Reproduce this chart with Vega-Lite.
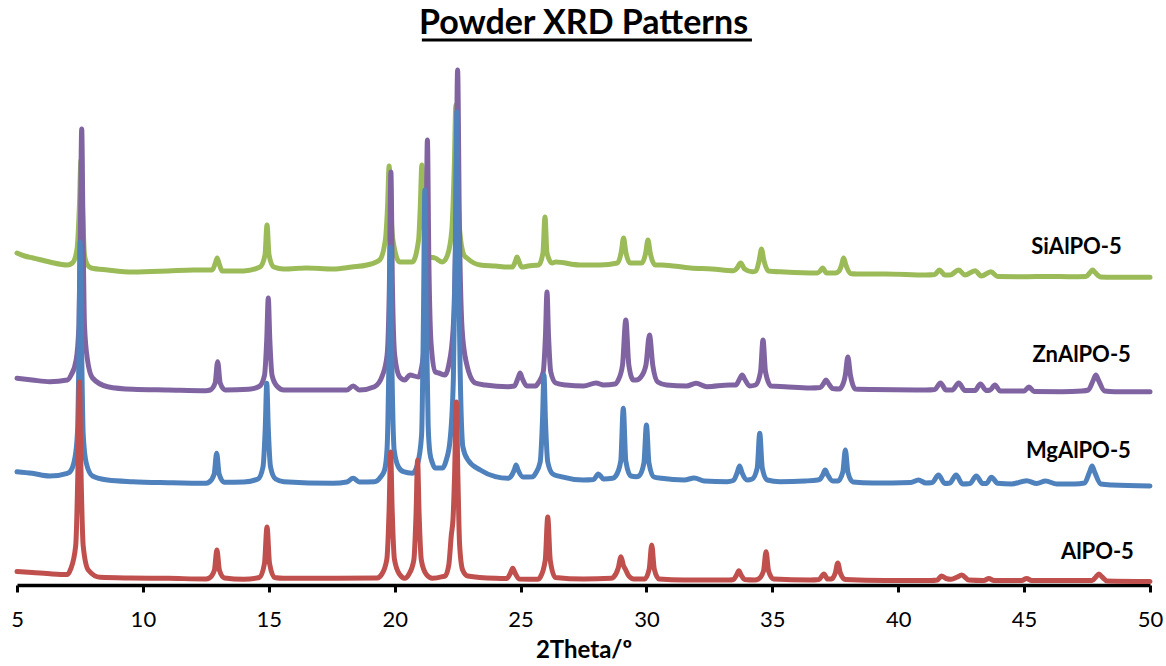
{
  "$schema": "https://vega.github.io/schema/vega-lite/v6.json",
  "width": 1133,
  "height": 530,
  "autosize": {"type": "none"},
  "padding": {"left": 17, "top": 55, "right": 16, "bottom": 81},
  "background": "white",
  "title": {"text": "Powder XRD Patterns", "font": "Lato", "fontSize": 34, "fontWeight": "bold", "color": "black", "anchor": "middle", "frame": "group", "baseline": "alphabetic", "offset": -29},
  "config": {"view": {"stroke": null}, "font": "Lato"},
  "datasets": {
    "patterns": [
      {"s":"SiAlPO-5","t":5.0,"i":332},{"s":"SiAlPO-5","t":5.3,"i":329},{"s":"SiAlPO-5","t":5.64,"i":327},{"s":"SiAlPO-5","t":6.3,"i":323},{"s":"SiAlPO-5","t":7.0,"i":320},{"s":"SiAlPO-5","t":7.2,"i":322},{"s":"SiAlPO-5","t":7.38,"i":335},{"s":"SiAlPO-5","t":7.48,"i":380},{"s":"SiAlPO-5","t":7.54,"i":425},{"s":"SiAlPO-5","t":7.6,"i":380},{"s":"SiAlPO-5","t":7.68,"i":330},{"s":"SiAlPO-5","t":7.8,"i":320},{"s":"SiAlPO-5","t":7.95,"i":317},{"s":"SiAlPO-5","t":8.6,"i":315},{"s":"SiAlPO-5","t":9.6,"i":313},{"s":"SiAlPO-5","t":11.0,"i":314},{"s":"SiAlPO-5","t":12.0,"i":315},{"s":"SiAlPO-5","t":12.75,"i":315},{"s":"SiAlPO-5","t":12.88,"i":322},{"s":"SiAlPO-5","t":12.95,"i":327},{"s":"SiAlPO-5","t":13.02,"i":322},{"s":"SiAlPO-5","t":13.15,"i":314},{"s":"SiAlPO-5","t":14.0,"i":314},{"s":"SiAlPO-5","t":14.65,"i":318},{"s":"SiAlPO-5","t":14.85,"i":330},{"s":"SiAlPO-5","t":14.93,"i":360},{"s":"SiAlPO-5","t":15.01,"i":330},{"s":"SiAlPO-5","t":15.2,"i":318},{"s":"SiAlPO-5","t":15.6,"i":316},{"s":"SiAlPO-5","t":16.5,"i":317},{"s":"SiAlPO-5","t":17.55,"i":316},{"s":"SiAlPO-5","t":18.3,"i":318},{"s":"SiAlPO-5","t":18.9,"i":320},{"s":"SiAlPO-5","t":19.4,"i":325},{"s":"SiAlPO-5","t":19.63,"i":345},{"s":"SiAlPO-5","t":19.72,"i":380},{"s":"SiAlPO-5","t":19.78,"i":419},{"s":"SiAlPO-5","t":19.84,"i":380},{"s":"SiAlPO-5","t":19.93,"i":345},{"s":"SiAlPO-5","t":20.2,"i":323},{"s":"SiAlPO-5","t":20.7,"i":323},{"s":"SiAlPO-5","t":20.95,"i":345},{"s":"SiAlPO-5","t":21.02,"i":380},{"s":"SiAlPO-5","t":21.08,"i":420},{"s":"SiAlPO-5","t":21.14,"i":380},{"s":"SiAlPO-5","t":21.22,"i":340},{"s":"SiAlPO-5","t":21.4,"i":328},{"s":"SiAlPO-5","t":21.6,"i":327},{"s":"SiAlPO-5","t":21.9,"i":323},{"s":"SiAlPO-5","t":22.1,"i":330},{"s":"SiAlPO-5","t":22.27,"i":355},{"s":"SiAlPO-5","t":22.37,"i":420},{"s":"SiAlPO-5","t":22.43,"i":480},{"s":"SiAlPO-5","t":22.49,"i":420},{"s":"SiAlPO-5","t":22.58,"i":355},{"s":"SiAlPO-5","t":22.75,"i":330},{"s":"SiAlPO-5","t":22.87,"i":327},{"s":"SiAlPO-5","t":23.4,"i":320},{"s":"SiAlPO-5","t":24.0,"i":319},{"s":"SiAlPO-5","t":24.5,"i":318},{"s":"SiAlPO-5","t":24.68,"i":318},{"s":"SiAlPO-5","t":24.8,"i":324},{"s":"SiAlPO-5","t":24.86,"i":328},{"s":"SiAlPO-5","t":24.93,"i":324},{"s":"SiAlPO-5","t":25.05,"i":318},{"s":"SiAlPO-5","t":25.3,"i":319},{"s":"SiAlPO-5","t":25.72,"i":320},{"s":"SiAlPO-5","t":25.89,"i":332},{"s":"SiAlPO-5","t":25.97,"i":368},{"s":"SiAlPO-5","t":26.05,"i":332},{"s":"SiAlPO-5","t":26.25,"i":322},{"s":"SiAlPO-5","t":26.4,"i":323},{"s":"SiAlPO-5","t":27.36,"i":320},{"s":"SiAlPO-5","t":28.15,"i":320},{"s":"SiAlPO-5","t":28.85,"i":322},{"s":"SiAlPO-5","t":29.0,"i":333},{"s":"SiAlPO-5","t":29.09,"i":347},{"s":"SiAlPO-5","t":29.18,"i":333},{"s":"SiAlPO-5","t":29.35,"i":322},{"s":"SiAlPO-5","t":29.58,"i":322},{"s":"SiAlPO-5","t":29.82,"i":322},{"s":"SiAlPO-5","t":29.97,"i":332},{"s":"SiAlPO-5","t":30.06,"i":345},{"s":"SiAlPO-5","t":30.15,"i":332},{"s":"SiAlPO-5","t":30.35,"i":320},{"s":"SiAlPO-5","t":30.6,"i":320},{"s":"SiAlPO-5","t":31.75,"i":317},{"s":"SiAlPO-5","t":32.6,"i":316},{"s":"SiAlPO-5","t":33.47,"i":314.3},{"s":"SiAlPO-5","t":33.6,"i":317},{"s":"SiAlPO-5","t":33.74,"i":322},{"s":"SiAlPO-5","t":33.9,"i":316},{"s":"SiAlPO-5","t":34.2,"i":313.3},{"s":"SiAlPO-5","t":34.35,"i":314},{"s":"SiAlPO-5","t":34.48,"i":325},{"s":"SiAlPO-5","t":34.57,"i":336},{"s":"SiAlPO-5","t":34.66,"i":325},{"s":"SiAlPO-5","t":34.85,"i":314},{"s":"SiAlPO-5","t":35.5,"i":313},{"s":"SiAlPO-5","t":36.78,"i":312},{"s":"SiAlPO-5","t":36.9,"i":314},{"s":"SiAlPO-5","t":37.0,"i":317},{"s":"SiAlPO-5","t":37.15,"i":312},{"s":"SiAlPO-5","t":37.5,"i":312},{"s":"SiAlPO-5","t":37.65,"i":314},{"s":"SiAlPO-5","t":37.75,"i":320},{"s":"SiAlPO-5","t":37.83,"i":327},{"s":"SiAlPO-5","t":37.92,"i":320},{"s":"SiAlPO-5","t":38.1,"i":311.5},{"s":"SiAlPO-5","t":38.36,"i":311},{"s":"SiAlPO-5","t":39.5,"i":311},{"s":"SiAlPO-5","t":41.1,"i":310},{"s":"SiAlPO-5","t":41.45,"i":310.5},{"s":"SiAlPO-5","t":41.64,"i":315},{"s":"SiAlPO-5","t":41.85,"i":310},{"s":"SiAlPO-5","t":42.06,"i":310},{"s":"SiAlPO-5","t":42.4,"i":315},{"s":"SiAlPO-5","t":42.65,"i":310},{"s":"SiAlPO-5","t":43.05,"i":314.3},{"s":"SiAlPO-5","t":43.3,"i":309},{"s":"SiAlPO-5","t":43.68,"i":313.3},{"s":"SiAlPO-5","t":43.95,"i":308.5},{"s":"SiAlPO-5","t":45.0,"i":308.3},{"s":"SiAlPO-5","t":46.0,"i":308.5},{"s":"SiAlPO-5","t":46.86,"i":308.3},{"s":"SiAlPO-5","t":47.45,"i":308.5},{"s":"SiAlPO-5","t":47.62,"i":312.5},{"s":"SiAlPO-5","t":47.72,"i":315},{"s":"SiAlPO-5","t":47.82,"i":312.5},{"s":"SiAlPO-5","t":48.05,"i":308},{"s":"SiAlPO-5","t":48.5,"i":307.7},{"s":"SiAlPO-5","t":50.0,"i":307.7},

      {"s":"ZnAlPO-5","t":5.0,"i":206.7},{"s":"ZnAlPO-5","t":5.6,"i":205},{"s":"ZnAlPO-5","t":6.3,"i":203.3},{"s":"ZnAlPO-5","t":7.0,"i":205},{"s":"ZnAlPO-5","t":7.15,"i":210},{"s":"ZnAlPO-5","t":7.35,"i":225},{"s":"ZnAlPO-5","t":7.46,"i":260},{"s":"ZnAlPO-5","t":7.52,"i":360},{"s":"ZnAlPO-5","t":7.57,"i":456},{"s":"ZnAlPO-5","t":7.62,"i":360},{"s":"ZnAlPO-5","t":7.68,"i":260},{"s":"ZnAlPO-5","t":7.8,"i":225},{"s":"ZnAlPO-5","t":8.0,"i":207},{"s":"ZnAlPO-5","t":8.6,"i":198.3},{"s":"ZnAlPO-5","t":9.6,"i":195.7},{"s":"ZnAlPO-5","t":11.0,"i":195},{"s":"ZnAlPO-5","t":12.5,"i":194.3},{"s":"ZnAlPO-5","t":12.67,"i":195},{"s":"ZnAlPO-5","t":12.87,"i":202},{"s":"ZnAlPO-5","t":12.97,"i":223.3},{"s":"ZnAlPO-5","t":13.07,"i":202},{"s":"ZnAlPO-5","t":13.27,"i":195},{"s":"ZnAlPO-5","t":14.2,"i":195.7},{"s":"ZnAlPO-5","t":14.63,"i":198.7},{"s":"ZnAlPO-5","t":14.83,"i":209.6},{"s":"ZnAlPO-5","t":14.92,"i":246},{"s":"ZnAlPO-5","t":14.98,"i":287},{"s":"ZnAlPO-5","t":15.04,"i":246},{"s":"ZnAlPO-5","t":15.13,"i":209.6},{"s":"ZnAlPO-5","t":15.33,"i":198.7},{"s":"ZnAlPO-5","t":15.6,"i":195},{"s":"ZnAlPO-5","t":17.5,"i":195},{"s":"ZnAlPO-5","t":18.1,"i":195},{"s":"ZnAlPO-5","t":18.35,"i":199},{"s":"ZnAlPO-5","t":18.6,"i":195},{"s":"ZnAlPO-5","t":19.2,"i":198.3},{"s":"ZnAlPO-5","t":19.52,"i":210},{"s":"ZnAlPO-5","t":19.7,"i":230},{"s":"ZnAlPO-5","t":19.79,"i":300},{"s":"ZnAlPO-5","t":19.85,"i":413},{"s":"ZnAlPO-5","t":19.91,"i":300},{"s":"ZnAlPO-5","t":20.0,"i":230},{"s":"ZnAlPO-5","t":20.2,"i":208},{"s":"ZnAlPO-5","t":20.4,"i":205},{"s":"ZnAlPO-5","t":20.6,"i":210},{"s":"ZnAlPO-5","t":20.95,"i":208},{"s":"ZnAlPO-5","t":21.05,"i":215},{"s":"ZnAlPO-5","t":21.17,"i":240},{"s":"ZnAlPO-5","t":21.24,"i":320},{"s":"ZnAlPO-5","t":21.3,"i":445},{"s":"ZnAlPO-5","t":21.36,"i":320},{"s":"ZnAlPO-5","t":21.45,"i":240},{"s":"ZnAlPO-5","t":21.62,"i":213},{"s":"ZnAlPO-5","t":21.75,"i":212},{"s":"ZnAlPO-5","t":22.0,"i":210},{"s":"ZnAlPO-5","t":22.15,"i":220},{"s":"ZnAlPO-5","t":22.32,"i":255},{"s":"ZnAlPO-5","t":22.43,"i":360},{"s":"ZnAlPO-5","t":22.5,"i":515},{"s":"ZnAlPO-5","t":22.57,"i":360},{"s":"ZnAlPO-5","t":22.68,"i":255},{"s":"ZnAlPO-5","t":22.85,"i":222},{"s":"ZnAlPO-5","t":23.2,"i":202},{"s":"ZnAlPO-5","t":23.6,"i":200},{"s":"ZnAlPO-5","t":24.5,"i":198.3},{"s":"ZnAlPO-5","t":24.75,"i":199},{"s":"ZnAlPO-5","t":24.9,"i":207},{"s":"ZnAlPO-5","t":24.98,"i":212},{"s":"ZnAlPO-5","t":25.06,"i":207},{"s":"ZnAlPO-5","t":25.25,"i":199},{"s":"ZnAlPO-5","t":25.6,"i":199},{"s":"ZnAlPO-5","t":25.7,"i":202},{"s":"ZnAlPO-5","t":25.9,"i":213},{"s":"ZnAlPO-5","t":25.99,"i":250},{"s":"ZnAlPO-5","t":26.05,"i":293},{"s":"ZnAlPO-5","t":26.11,"i":250},{"s":"ZnAlPO-5","t":26.2,"i":213},{"s":"ZnAlPO-5","t":26.4,"i":202},{"s":"ZnAlPO-5","t":26.8,"i":200},{"s":"ZnAlPO-5","t":27.5,"i":199},{"s":"ZnAlPO-5","t":28.0,"i":202},{"s":"ZnAlPO-5","t":28.3,"i":200},{"s":"ZnAlPO-5","t":28.75,"i":201},{"s":"ZnAlPO-5","t":28.88,"i":205},{"s":"ZnAlPO-5","t":29.05,"i":220},{"s":"ZnAlPO-5","t":29.18,"i":265},{"s":"ZnAlPO-5","t":29.3,"i":220},{"s":"ZnAlPO-5","t":29.48,"i":205},{"s":"ZnAlPO-5","t":29.6,"i":205},{"s":"ZnAlPO-5","t":29.78,"i":208},{"s":"ZnAlPO-5","t":29.98,"i":220},{"s":"ZnAlPO-5","t":30.12,"i":250},{"s":"ZnAlPO-5","t":30.25,"i":220},{"s":"ZnAlPO-5","t":30.45,"i":203},{"s":"ZnAlPO-5","t":30.8,"i":200},{"s":"ZnAlPO-5","t":31.6,"i":199},{"s":"ZnAlPO-5","t":31.97,"i":201.7},{"s":"ZnAlPO-5","t":32.4,"i":198.3},{"s":"ZnAlPO-5","t":33.3,"i":200},{"s":"ZnAlPO-5","t":33.55,"i":200},{"s":"ZnAlPO-5","t":33.7,"i":206},{"s":"ZnAlPO-5","t":33.8,"i":210},{"s":"ZnAlPO-5","t":33.9,"i":206},{"s":"ZnAlPO-5","t":34.1,"i":199},{"s":"ZnAlPO-5","t":34.33,"i":200},{"s":"ZnAlPO-5","t":34.53,"i":213},{"s":"ZnAlPO-5","t":34.63,"i":245},{"s":"ZnAlPO-5","t":34.73,"i":213},{"s":"ZnAlPO-5","t":34.95,"i":199},{"s":"ZnAlPO-5","t":35.5,"i":198.3},{"s":"ZnAlPO-5","t":36.5,"i":197},{"s":"ZnAlPO-5","t":36.9,"i":197.5},{"s":"ZnAlPO-5","t":37.05,"i":202},{"s":"ZnAlPO-5","t":37.13,"i":205},{"s":"ZnAlPO-5","t":37.22,"i":202},{"s":"ZnAlPO-5","t":37.4,"i":196.5},{"s":"ZnAlPO-5","t":37.65,"i":196},{"s":"ZnAlPO-5","t":37.72,"i":197},{"s":"ZnAlPO-5","t":37.9,"i":210},{"s":"ZnAlPO-5","t":38.0,"i":228},{"s":"ZnAlPO-5","t":38.1,"i":210},{"s":"ZnAlPO-5","t":38.3,"i":196},{"s":"ZnAlPO-5","t":39.0,"i":195.5},{"s":"ZnAlPO-5","t":41.1,"i":195},{"s":"ZnAlPO-5","t":41.45,"i":195.5},{"s":"ZnAlPO-5","t":41.68,"i":202},{"s":"ZnAlPO-5","t":41.9,"i":195},{"s":"ZnAlPO-5","t":42.15,"i":195},{"s":"ZnAlPO-5","t":42.4,"i":202},{"s":"ZnAlPO-5","t":42.65,"i":194.5},{"s":"ZnAlPO-5","t":43.05,"i":194.5},{"s":"ZnAlPO-5","t":43.26,"i":201},{"s":"ZnAlPO-5","t":43.5,"i":194.5},{"s":"ZnAlPO-5","t":43.65,"i":195},{"s":"ZnAlPO-5","t":43.84,"i":200},{"s":"ZnAlPO-5","t":44.05,"i":194},{"s":"ZnAlPO-5","t":44.7,"i":194},{"s":"ZnAlPO-5","t":45.0,"i":194},{"s":"ZnAlPO-5","t":45.19,"i":198},{"s":"ZnAlPO-5","t":45.4,"i":193.5},{"s":"ZnAlPO-5","t":46.5,"i":193.3},{"s":"ZnAlPO-5","t":47.3,"i":194},{"s":"ZnAlPO-5","t":47.55,"i":195},{"s":"ZnAlPO-5","t":47.75,"i":205},{"s":"ZnAlPO-5","t":47.85,"i":210},{"s":"ZnAlPO-5","t":47.95,"i":205},{"s":"ZnAlPO-5","t":48.2,"i":194},{"s":"ZnAlPO-5","t":48.6,"i":193.3},{"s":"ZnAlPO-5","t":50.0,"i":193.3},

      {"s":"MgAlPO-5","t":5.0,"i":113.3},{"s":"MgAlPO-5","t":5.6,"i":111.7},{"s":"MgAlPO-5","t":6.3,"i":109},{"s":"MgAlPO-5","t":7.0,"i":111.7},{"s":"MgAlPO-5","t":7.1,"i":113},{"s":"MgAlPO-5","t":7.3,"i":127},{"s":"MgAlPO-5","t":7.4,"i":152},{"s":"MgAlPO-5","t":7.46,"i":230},{"s":"MgAlPO-5","t":7.51,"i":343},{"s":"MgAlPO-5","t":7.57,"i":230},{"s":"MgAlPO-5","t":7.63,"i":150},{"s":"MgAlPO-5","t":7.75,"i":122},{"s":"MgAlPO-5","t":8.0,"i":109},{"s":"MgAlPO-5","t":8.6,"i":105},{"s":"MgAlPO-5","t":9.6,"i":103.3},{"s":"MgAlPO-5","t":11.0,"i":102.3},{"s":"MgAlPO-5","t":12.5,"i":101.7},{"s":"MgAlPO-5","t":12.63,"i":102.8},{"s":"MgAlPO-5","t":12.83,"i":110.7},{"s":"MgAlPO-5","t":12.93,"i":131.7},{"s":"MgAlPO-5","t":13.03,"i":110.7},{"s":"MgAlPO-5","t":13.23,"i":102.8},{"s":"MgAlPO-5","t":14.0,"i":103},{"s":"MgAlPO-5","t":14.57,"i":106},{"s":"MgAlPO-5","t":14.77,"i":118},{"s":"MgAlPO-5","t":14.86,"i":157},{"s":"MgAlPO-5","t":14.92,"i":201.7},{"s":"MgAlPO-5","t":14.98,"i":157},{"s":"MgAlPO-5","t":15.07,"i":118},{"s":"MgAlPO-5","t":15.27,"i":106},{"s":"MgAlPO-5","t":15.6,"i":103.3},{"s":"MgAlPO-5","t":17.55,"i":101.7},{"s":"MgAlPO-5","t":18.1,"i":103},{"s":"MgAlPO-5","t":18.35,"i":106.7},{"s":"MgAlPO-5","t":18.6,"i":103},{"s":"MgAlPO-5","t":19.2,"i":103.3},{"s":"MgAlPO-5","t":19.45,"i":108.3},{"s":"MgAlPO-5","t":19.6,"i":115},{"s":"MgAlPO-5","t":19.7,"i":137},{"s":"MgAlPO-5","t":19.77,"i":220},{"s":"MgAlPO-5","t":19.83,"i":338},{"s":"MgAlPO-5","t":19.89,"i":220},{"s":"MgAlPO-5","t":19.98,"i":135},{"s":"MgAlPO-5","t":20.15,"i":118},{"s":"MgAlPO-5","t":20.35,"i":113.3},{"s":"MgAlPO-5","t":20.7,"i":111.7},{"s":"MgAlPO-5","t":20.9,"i":120},{"s":"MgAlPO-5","t":21.07,"i":150},{"s":"MgAlPO-5","t":21.14,"i":260},{"s":"MgAlPO-5","t":21.2,"i":395},{"s":"MgAlPO-5","t":21.26,"i":260},{"s":"MgAlPO-5","t":21.33,"i":160},{"s":"MgAlPO-5","t":21.4,"i":132},{"s":"MgAlPO-5","t":21.5,"i":122},{"s":"MgAlPO-5","t":21.6,"i":117},{"s":"MgAlPO-5","t":21.9,"i":117},{"s":"MgAlPO-5","t":22.05,"i":125},{"s":"MgAlPO-5","t":22.2,"i":145},{"s":"MgAlPO-5","t":22.33,"i":205},{"s":"MgAlPO-5","t":22.41,"i":335},{"s":"MgAlPO-5","t":22.47,"i":473},{"s":"MgAlPO-5","t":22.53,"i":335},{"s":"MgAlPO-5","t":22.6,"i":215},{"s":"MgAlPO-5","t":22.71,"i":138},{"s":"MgAlPO-5","t":22.91,"i":125},{"s":"MgAlPO-5","t":23.4,"i":115},{"s":"MgAlPO-5","t":24.0,"i":108.3},{"s":"MgAlPO-5","t":24.5,"i":106.7},{"s":"MgAlPO-5","t":24.6,"i":108},{"s":"MgAlPO-5","t":24.75,"i":115},{"s":"MgAlPO-5","t":24.82,"i":120},{"s":"MgAlPO-5","t":24.9,"i":115},{"s":"MgAlPO-5","t":25.1,"i":108},{"s":"MgAlPO-5","t":25.5,"i":108.3},{"s":"MgAlPO-5","t":25.58,"i":111},{"s":"MgAlPO-5","t":25.78,"i":123},{"s":"MgAlPO-5","t":25.87,"i":164},{"s":"MgAlPO-5","t":25.93,"i":210},{"s":"MgAlPO-5","t":25.99,"i":164},{"s":"MgAlPO-5","t":26.08,"i":123},{"s":"MgAlPO-5","t":26.28,"i":111},{"s":"MgAlPO-5","t":26.6,"i":108.3},{"s":"MgAlPO-5","t":27.5,"i":105},{"s":"MgAlPO-5","t":27.9,"i":105.5},{"s":"MgAlPO-5","t":28.09,"i":111},{"s":"MgAlPO-5","t":28.3,"i":106},{"s":"MgAlPO-5","t":28.65,"i":106.7},{"s":"MgAlPO-5","t":28.78,"i":109},{"s":"MgAlPO-5","t":28.98,"i":124},{"s":"MgAlPO-5","t":29.08,"i":176.7},{"s":"MgAlPO-5","t":29.18,"i":124},{"s":"MgAlPO-5","t":29.38,"i":109},{"s":"MgAlPO-5","t":29.6,"i":108.3},{"s":"MgAlPO-5","t":29.7,"i":109},{"s":"MgAlPO-5","t":29.9,"i":122},{"s":"MgAlPO-5","t":30.0,"i":160},{"s":"MgAlPO-5","t":30.1,"i":122},{"s":"MgAlPO-5","t":30.3,"i":108},{"s":"MgAlPO-5","t":30.6,"i":106.7},{"s":"MgAlPO-5","t":31.5,"i":105},{"s":"MgAlPO-5","t":31.9,"i":107},{"s":"MgAlPO-5","t":32.3,"i":104},{"s":"MgAlPO-5","t":33.2,"i":103.3},{"s":"MgAlPO-5","t":33.45,"i":104.5},{"s":"MgAlPO-5","t":33.6,"i":112},{"s":"MgAlPO-5","t":33.7,"i":119},{"s":"MgAlPO-5","t":33.8,"i":112},{"s":"MgAlPO-5","t":34.0,"i":105},{"s":"MgAlPO-5","t":34.2,"i":106},{"s":"MgAlPO-5","t":34.4,"i":117},{"s":"MgAlPO-5","t":34.5,"i":151.7},{"s":"MgAlPO-5","t":34.6,"i":117},{"s":"MgAlPO-5","t":34.8,"i":105},{"s":"MgAlPO-5","t":35.3,"i":103.3},{"s":"MgAlPO-5","t":36.3,"i":104},{"s":"MgAlPO-5","t":36.8,"i":105},{"s":"MgAlPO-5","t":36.9,"i":106},{"s":"MgAlPO-5","t":37.0,"i":110},{"s":"MgAlPO-5","t":37.1,"i":115},{"s":"MgAlPO-5","t":37.2,"i":110},{"s":"MgAlPO-5","t":37.4,"i":104},{"s":"MgAlPO-5","t":37.6,"i":104},{"s":"MgAlPO-5","t":37.8,"i":113},{"s":"MgAlPO-5","t":37.9,"i":135},{"s":"MgAlPO-5","t":38.0,"i":113},{"s":"MgAlPO-5","t":38.2,"i":103},{"s":"MgAlPO-5","t":39.0,"i":102},{"s":"MgAlPO-5","t":40.5,"i":102.5},{"s":"MgAlPO-5","t":40.8,"i":105},{"s":"MgAlPO-5","t":41.1,"i":102},{"s":"MgAlPO-5","t":41.35,"i":102.5},{"s":"MgAlPO-5","t":41.6,"i":110},{"s":"MgAlPO-5","t":41.85,"i":101.5},{"s":"MgAlPO-5","t":42.05,"i":102},{"s":"MgAlPO-5","t":42.3,"i":110},{"s":"MgAlPO-5","t":42.55,"i":101},{"s":"MgAlPO-5","t":42.85,"i":101.5},{"s":"MgAlPO-5","t":43.1,"i":109},{"s":"MgAlPO-5","t":43.35,"i":101.5},{"s":"MgAlPO-5","t":43.5,"i":101.5},{"s":"MgAlPO-5","t":43.7,"i":107.7},{"s":"MgAlPO-5","t":43.95,"i":101.7},{"s":"MgAlPO-5","t":44.5,"i":101},{"s":"MgAlPO-5","t":45.1,"i":104.3},{"s":"MgAlPO-5","t":45.5,"i":101.5},{"s":"MgAlPO-5","t":45.85,"i":104},{"s":"MgAlPO-5","t":46.3,"i":101},{"s":"MgAlPO-5","t":47.0,"i":101},{"s":"MgAlPO-5","t":47.4,"i":102},{"s":"MgAlPO-5","t":47.6,"i":113},{"s":"MgAlPO-5","t":47.7,"i":119},{"s":"MgAlPO-5","t":47.8,"i":113},{"s":"MgAlPO-5","t":48.05,"i":101},{"s":"MgAlPO-5","t":48.5,"i":100},{"s":"MgAlPO-5","t":50.0,"i":99},

      {"s":"AlPO-5","t":5.0,"i":13.5},{"s":"AlPO-5","t":5.6,"i":12.5},{"s":"AlPO-5","t":6.4,"i":11},{"s":"AlPO-5","t":7.0,"i":10.5},{"s":"AlPO-5","t":7.13,"i":15.8},{"s":"AlPO-5","t":7.33,"i":39},{"s":"AlPO-5","t":7.42,"i":116},{"s":"AlPO-5","t":7.48,"i":203},{"s":"AlPO-5","t":7.54,"i":116},{"s":"AlPO-5","t":7.63,"i":39},{"s":"AlPO-5","t":7.83,"i":15},{"s":"AlPO-5","t":8.3,"i":7.7},{"s":"AlPO-5","t":9.5,"i":7},{"s":"AlPO-5","t":11.0,"i":6.7},{"s":"AlPO-5","t":12.5,"i":6},{"s":"AlPO-5","t":12.64,"i":7},{"s":"AlPO-5","t":12.84,"i":14.7},{"s":"AlPO-5","t":12.94,"i":35},{"s":"AlPO-5","t":13.04,"i":14.7},{"s":"AlPO-5","t":13.24,"i":7},{"s":"AlPO-5","t":14.0,"i":5.7},{"s":"AlPO-5","t":14.63,"i":7.5},{"s":"AlPO-5","t":14.83,"i":21.6},{"s":"AlPO-5","t":14.93,"i":58},{"s":"AlPO-5","t":15.03,"i":21.6},{"s":"AlPO-5","t":15.23,"i":7.5},{"s":"AlPO-5","t":15.6,"i":6.7},{"s":"AlPO-5","t":17.5,"i":6.7},{"s":"AlPO-5","t":19.3,"i":7},{"s":"AlPO-5","t":19.49,"i":10.8},{"s":"AlPO-5","t":19.69,"i":25.9},{"s":"AlPO-5","t":19.78,"i":76},{"s":"AlPO-5","t":19.84,"i":133},{"s":"AlPO-5","t":19.9,"i":76},{"s":"AlPO-5","t":19.99,"i":25.9},{"s":"AlPO-5","t":20.19,"i":10.8},{"s":"AlPO-5","t":20.4,"i":6.7},{"s":"AlPO-5","t":20.56,"i":10.5},{"s":"AlPO-5","t":20.76,"i":24.7},{"s":"AlPO-5","t":20.85,"i":71.6},{"s":"AlPO-5","t":20.91,"i":125},{"s":"AlPO-5","t":20.97,"i":71.6},{"s":"AlPO-5","t":21.06,"i":24.7},{"s":"AlPO-5","t":21.26,"i":10.5},{"s":"AlPO-5","t":21.5,"i":6.7},{"s":"AlPO-5","t":21.9,"i":8.3},{"s":"AlPO-5","t":22.0,"i":9},{"s":"AlPO-5","t":22.15,"i":20},{"s":"AlPO-5","t":22.25,"i":50},{"s":"AlPO-5","t":22.32,"i":67},{"s":"AlPO-5","t":22.38,"i":110},{"s":"AlPO-5","t":22.45,"i":183},{"s":"AlPO-5","t":22.51,"i":110},{"s":"AlPO-5","t":22.58,"i":40},{"s":"AlPO-5","t":22.7,"i":15},{"s":"AlPO-5","t":22.9,"i":9},{"s":"AlPO-5","t":24.0,"i":6.7},{"s":"AlPO-5","t":24.45,"i":6.5},{"s":"AlPO-5","t":24.6,"i":12},{"s":"AlPO-5","t":24.69,"i":16.7},{"s":"AlPO-5","t":24.78,"i":12},{"s":"AlPO-5","t":24.95,"i":6},{"s":"AlPO-5","t":25.7,"i":5.7},{"s":"AlPO-5","t":25.78,"i":7.6},{"s":"AlPO-5","t":25.98,"i":24.6},{"s":"AlPO-5","t":26.08,"i":68},{"s":"AlPO-5","t":26.18,"i":24.6},{"s":"AlPO-5","t":26.38,"i":7.6},{"s":"AlPO-5","t":27.5,"i":6},{"s":"AlPO-5","t":28.6,"i":6.7},{"s":"AlPO-5","t":28.7,"i":8},{"s":"AlPO-5","t":28.88,"i":17},{"s":"AlPO-5","t":28.99,"i":28.3},{"s":"AlPO-5","t":29.08,"i":20},{"s":"AlPO-5","t":29.18,"i":15},{"s":"AlPO-5","t":29.3,"i":9},{"s":"AlPO-5","t":29.5,"i":6},{"s":"AlPO-5","t":29.93,"i":6},{"s":"AlPO-5","t":30.11,"i":16},{"s":"AlPO-5","t":30.21,"i":40},{"s":"AlPO-5","t":30.31,"i":16},{"s":"AlPO-5","t":30.5,"i":6},{"s":"AlPO-5","t":31.5,"i":5},{"s":"AlPO-5","t":33.3,"i":5},{"s":"AlPO-5","t":33.45,"i":5.5},{"s":"AlPO-5","t":33.58,"i":10},{"s":"AlPO-5","t":33.67,"i":14.3},{"s":"AlPO-5","t":33.76,"i":10},{"s":"AlPO-5","t":33.9,"i":5.5},{"s":"AlPO-5","t":34.3,"i":5},{"s":"AlPO-5","t":34.45,"i":6},{"s":"AlPO-5","t":34.65,"i":14},{"s":"AlPO-5","t":34.75,"i":33.3},{"s":"AlPO-5","t":34.85,"i":14},{"s":"AlPO-5","t":35.05,"i":6},{"s":"AlPO-5","t":36.5,"i":5},{"s":"AlPO-5","t":36.85,"i":5.5},{"s":"AlPO-5","t":37.05,"i":11},{"s":"AlPO-5","t":37.2,"i":6},{"s":"AlPO-5","t":37.35,"i":6},{"s":"AlPO-5","t":37.5,"i":12},{"s":"AlPO-5","t":37.6,"i":22},{"s":"AlPO-5","t":37.7,"i":12},{"s":"AlPO-5","t":37.9,"i":5.5},{"s":"AlPO-5","t":39.5,"i":4.5},{"s":"AlPO-5","t":41.3,"i":4.5},{"s":"AlPO-5","t":41.55,"i":5},{"s":"AlPO-5","t":41.72,"i":9},{"s":"AlPO-5","t":41.9,"i":6.5},{"s":"AlPO-5","t":42.1,"i":5.7},{"s":"AlPO-5","t":42.35,"i":8},{"s":"AlPO-5","t":42.52,"i":10},{"s":"AlPO-5","t":42.8,"i":5},{"s":"AlPO-5","t":43.4,"i":4.5},{"s":"AlPO-5","t":43.6,"i":6.5},{"s":"AlPO-5","t":43.8,"i":4.5},{"s":"AlPO-5","t":44.9,"i":4.5},{"s":"AlPO-5","t":45.1,"i":6.5},{"s":"AlPO-5","t":45.3,"i":4.5},{"s":"AlPO-5","t":46.5,"i":4.5},{"s":"AlPO-5","t":47.7,"i":4.5},{"s":"AlPO-5","t":47.85,"i":8},{"s":"AlPO-5","t":47.97,"i":11},{"s":"AlPO-5","t":48.1,"i":8},{"s":"AlPO-5","t":48.3,"i":4},{"s":"AlPO-5","t":50.0,"i":3.5}
    ],
    "labels": [
      {"s": "SiAlPO-5", "t": 48.88, "i": 338},
      {"s": "ZnAlPO-5", "t": 49.24, "i": 230},
      {"s": "MgAlPO-5", "t": 49.24, "i": 134},
      {"s": "AlPO-5", "t": 49.36, "i": 33}
    ]
  },
  "layer": [
    {
      "data": {"name": "patterns"},
      "mark": {"type": "line", "strokeWidth": 5, "strokeJoin": "round", "strokeCap": "round", "interpolate": "monotone"},
      "encoding": {
        "x": {
          "field": "t", "type": "quantitative",
          "scale": {"domain": [5, 50], "nice": false, "zero": false},
          "axis": {
            "values": [5, 10, 15, 20, 25, 30, 35, 40, 45, 50],
            "title": "2Theta/º",
            "grid": false,
            "domainColor": "black", "domainWidth": 3.5,
            "tickColor": "black", "tickWidth": 3, "tickSize": 7,
            "labelFont": "Lato", "labelFontSize": 22, "labelColor": "black", "labelPadding": 17, "labelFlush": false,
            "titleFont": "Lato", "titleFontSize": 24, "titleFontWeight": "bold", "titleColor": "black", "titlePadding": 8
          }
        },
        "y": {
          "field": "i", "type": "quantitative",
          "scale": {"domain": [0, 530], "nice": false, "zero": false},
          "axis": null
        },
        "color": {
          "field": "s", "type": "nominal",
          "scale": {
            "domain": ["SiAlPO-5", "ZnAlPO-5", "MgAlPO-5", "AlPO-5"],
            "range": ["#9BBB59", "#8064A2", "#4F81BD", "#C0504D"]
          },
          "legend": null
        }
      }
    },
    {
      "data": {"name": "labels"},
      "mark": {"type": "text", "align": "right", "baseline": "middle", "font": "Lato", "fontSize": 22, "fontWeight": "bold", "color": "black"},
      "encoding": {
        "x": {"field": "t", "type": "quantitative"},
        "y": {"field": "i", "type": "quantitative"},
        "text": {"field": "s"}
      }
    },
    {
      "data": {"values": [{}]},
      "mark": {"type": "rule", "stroke": "black", "strokeWidth": 3, "clip": false},
      "encoding": {
        "x": {"datum": 21.08, "type": "quantitative"},
        "x2": {"datum": 34.19},
        "y": {"datum": 545, "type": "quantitative"}
      }
    }
  ]
}
